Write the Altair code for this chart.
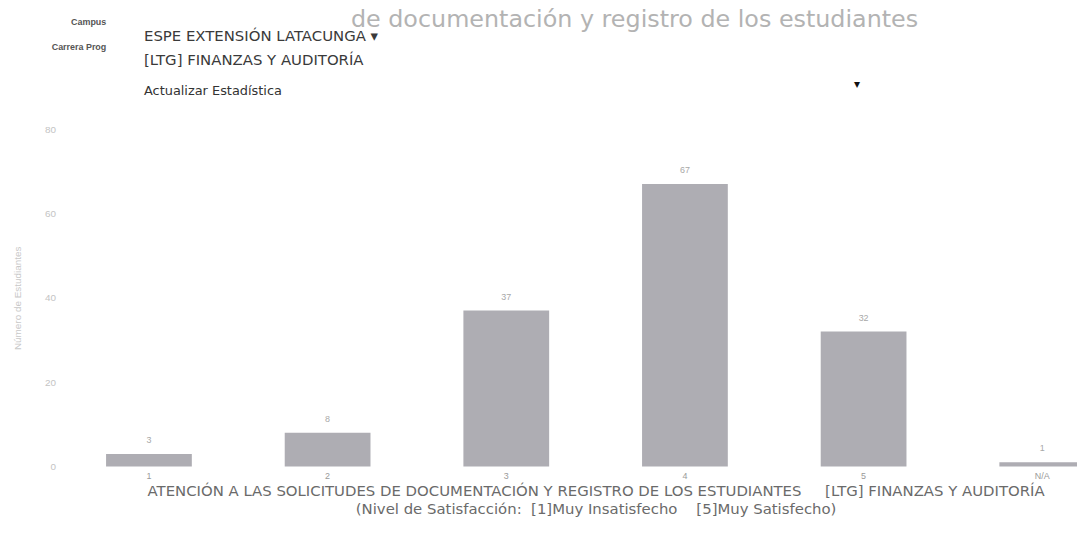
import altair as alt
import pandas as pd

# ---- data ----
categories = ["1", "2", "3", "4", "5", "N/A"]
counts = [3, 8, 37, 67, 32, 1]
y_ticks = [0, 20, 40, 60, 80]

NB = "\u00a0"
title_text = "Atención a las solicitudes de documentación y registro de los estudiantes"
x_title = [
    "ATENCIÓN A LAS SOLICITUDES DE DOCUMENTACIÓN Y REGISTRO DE LOS ESTUDIANTES" + NB * 5 + "[LTG] FINANZAS Y AUDITORÍA",
    "(Nivel de Satisfacción:" + NB * 2 + "[1]Muy Insatisfecho" + NB * 4 + "[5]Muy Satisfecho)",
]
y_title = "Número de Estudiantes"
form_labels = ["Campus", "Carrera Prog"]
form_values = ["ESPE EXTENSIÓN LATACUNGA ▾", "[LTG] FINANZAS Y AUDITORÍA"]
button_text = "Actualizar Estadística"
marker_text = "▾"

df = pd.DataFrame({"nivel": categories, "n": counts})

W, H = 1025, 340
FONT = "Liberation Sans"
WIDE = "DejaVu Sans"
BAR = "#aeadb3"

x_enc = alt.X(
    "nivel:N",
    sort=categories,
    scale=alt.Scale(range=[0, 1080], paddingInner=0.52, paddingOuter=0.26),
    axis=alt.Axis(
        labelAngle=0, labelFontSize=9, labelColor="#9a9a9a", labelPadding=5,
        ticks=False, domain=False, grid=False,
        title=x_title, titleFontSize=15, titleFontWeight="normal", titleFont=WIDE,
        titleColor="#6a6a6a", titlePadding=3, titleLineHeight=18,
    ),
)
y_enc = alt.Y(
    "n:Q",
    scale=alt.Scale(domain=[0, 80]),
    axis=alt.Axis(
        values=y_ticks, labelFontSize=10, labelColor="#c4c4c4", labelPadding=4,
        ticks=False, domain=False, grid=False,
        title=y_title, titleFontSize=10, titleFontWeight="normal",
        titleColor="#c8c8c8", titlePadding=22,
    ),
)

base = alt.Chart(df)
bars = base.mark_bar(color=BAR).encode(x=x_enc, y=y_enc)
labels = base.mark_text(baseline="bottom", dy=-9, fontSize=9, color="#a8a8a8", font=FONT).encode(
    x=alt.X("nivel:N", sort=categories), y="n:Q", text="n:Q"
)

def txt(t, x, y, size, color, align="left", weight="normal", baseline="middle", font=FONT, **kw):
    return alt.Chart(pd.DataFrame({"t": [t]})).mark_text(
        align=align, baseline=baseline, fontSize=size, color=color,
        fontWeight=weight, font=font, **kw,
    ).encode(x=alt.value(x), y=alt.value(y), text="t:N")

# title: only its tail shows, the start is hidden behind the form (as in the picture)
title = txt(title_text, 865, -103, 24, "#b3b3b3", align="right", baseline="alphabetic",
            font=WIDE, dir="rtl", limit=595, ellipsis=" ")
form = [
    txt(form_labels[0], 47, -108, 9, "#555555", align="right", weight="bold"),
    txt(form_labels[1], 47, -83, 9, "#555555", align="right", weight="bold"),
    txt(form_values[0], 85, -94, 15, "#3a3a3a", font=WIDE),
    txt(form_values[1], 85, -70, 15, "#3a3a3a", font=WIDE),
    txt(button_text, 85, -38, 13, "#333333", font=WIDE),
    txt(marker_text, 800, -45, 12, "#111111"),
]

chart = alt.layer(bars, labels, title, *form).properties(
    width=W, height=H,
    autosize=alt.AutoSizeParams(type="none"),
    padding={"left": 52, "top": 120, "right": 0, "bottom": 69},
).configure(font=FONT, view=alt.ViewConfig(stroke=None))

chart.save("out.html", embed_options={"renderer": "svg", "actions": False})
